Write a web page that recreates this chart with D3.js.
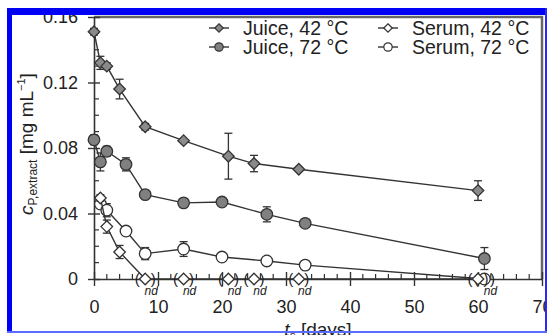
<!DOCTYPE html>
<html><head><meta charset="utf-8">
<script src="https://cdn.jsdelivr.net/npm/d3@7"></script>
<style>html,body{margin:0;padding:0;background:#fff;overflow:hidden}</style>
</head><body>
<svg id="c" width="547" height="335"></svg>
<script>
// ---- data ----
const days42 = [0, 1, 2, 4, 8, 14, 21, 25, 32, 60];
const days72 = [0, 1, 2, 5, 8, 14, 20, 27, 33, 61];
const juice42 = [0.151, 0.132, 0.130, 0.116, 0.093, 0.0845, 0.075, 0.0705, 0.067, 0.054];
const juice42Err = [0.002, 0.004, 0.002, 0.006, 0.002, 0.001, 0.014, 0.005, 0.001, 0.006];
const juice72 = [0.085, 0.0715, 0.078, 0.070, 0.0515, 0.0465, 0.047, 0.0395, 0.034, 0.0125];
const juice72Err = [0.003, 0.0055, 0.003, 0.004, 0.001, 0.001, 0.001, 0.0046, 0.001, 0.0067];
const serumDays42 = [1, 2, 4, 8, 14, 21, 25, 32, 60];
const serum42 = [0.0495, 0.032, 0.0165, 0, 0, 0, 0, 0, 0];
const serum42Err = [0.002, 0.004, 0.004, 0, 0, 0, 0, 0, 0];
const serum42Nd = [false, false, false, true, true, true, true, true, true];
const serum42NdLabel = [false, false, false, true, true, true, true, true, false];
const serumDays72 = [1, 2, 5, 8, 14, 20, 27, 33, 61];
const serum72 = [0.0458, 0.042, 0.0293, 0.0155, 0.0183, 0.0134, 0.011, 0.0085, 0];
const serum72Err = [0.002, 0.004, 0.001, 0.0037, 0.0045, 0.001, 0.001, 0.001, 0.002];
const serum72Nd = [false, false, false, false, false, false, false, false, true];
const serum72NdLabel = [false, false, false, false, false, false, false, false, true];
const xTicks = [0, 10, 20, 30, 40, 50, 60, 70];
const yTicks = [0, 0.04, 0.08, 0.12, 0.16];
const yTickLabels = ["0", "0.04", "0.08", "0.12", "0.16"];
const legendLabels = ["Juice, 42 °C", "Serum, 42 °C", "Juice, 72 °C", "Serum, 72 °C"];

// ---- layout ----
const FONT = "'Liberation Sans', Arial, Helvetica, sans-serif";
const svg = d3.select("#c");
const x = d3.scaleLinear().domain([0, 70]).range([94, 542]);
const y = d3.scaleLinear().domain([0, 0.16]).range([279, 17]);
const INK = "#333";

// frame (top, right)
svg.append("path").attr("d", `M${x(0)},${y(0.16)}H${x(70)}V${y(0)}`)
  .attr("fill", "none").attr("stroke", "#666").attr("stroke-width", 2.5);

// y axis
const yAx = svg.append("g").attr("transform", `translate(${x(0)},0)`)
  .call(d3.axisLeft(y).tickValues(yTicks).tickFormat((d, i) => yTickLabels[i]).tickSizeInner(6).tickSizeOuter(0).tickPadding(10));
yAx.select(".domain").attr("stroke", INK).attr("stroke-width", 1.6);
yAx.selectAll(".tick line").attr("stroke", INK).attr("stroke-width", 1.4).attr("x2", 6).attr("x1", -6);
yAx.selectAll("text").attr("font-family", FONT).attr("font-size", 18).attr("fill", "#222");
const yMinor = d3.range(0, 0.1601, 0.01).filter(v => yTicks.every(t => Math.abs(t - v) > 1e-6));
svg.append("g").selectAll("line").data(yMinor).join("line")
  .attr("x1", x(0)).attr("x2", x(0) + 5).attr("y1", d => y(d)).attr("y2", d => y(d))
  .attr("stroke", INK).attr("stroke-width", 1.2);

// x axis
const xAx = svg.append("g").attr("transform", `translate(0,${y(0)})`)
  .call(d3.axisBottom(x).tickValues(xTicks).tickFormat(d3.format("d")).tickSizeInner(7).tickSizeOuter(0).tickPadding(14));
xAx.select(".domain").attr("stroke", INK).attr("stroke-width", 1.6);
xAx.selectAll(".tick line").attr("stroke", INK).attr("stroke-width", 1.4).attr("y1", -7).attr("y2", 7);
xAx.selectAll("text").attr("font-family", FONT).attr("font-size", 18).attr("fill", "#222");
const xMinor = d3.range(0, 70.01, 2).filter(v => v % 10 !== 0);
svg.append("g").selectAll("line").data(xMinor).join("line")
  .attr("x1", d => x(d)).attr("x2", d => x(d)).attr("y1", y(0)).attr("y2", y(0) - 5)
  .attr("stroke", INK).attr("stroke-width", 1.2);

// series
const series = [
  {days: days42, vals: juice42, err: juice42Err, shape: "diamond", fill: "#8a8a8a"},
  {days: days72, vals: juice72, err: juice72Err, shape: "circle", fill: "#808080"},
  {days: serumDays72, vals: serum72, err: serum72Err, shape: "circle", fill: "#fff", nd: serum72Nd, ndl: serum72NdLabel},
  {days: serumDays42, vals: serum42, err: serum42Err, shape: "diamond", fill: "#fff", nd: serum42Nd, ndl: serum42NdLabel},
];
const line = d3.line().x(d => x(d[0])).y(d => y(d[1]));
const sym = {
  diamond: d3.symbol().type(d3.symbolDiamond2).size(85),
  circle: d3.symbol().type(d3.symbolCircle).size(105)
};
series.forEach(s => {
  const pts = s.days.map((d, i) => [d, s.vals[i], s.err[i], s.nd ? s.nd[i] : false, s.ndl ? s.ndl[i] : false]);
  svg.append("path").datum(pts).attr("d", line).attr("fill", "none").attr("stroke", INK).attr("stroke-width", 1.4);
  const eb = svg.append("g").attr("stroke", INK).attr("stroke-width", 1.3);
  pts.filter(p => p[2] > 0).forEach(p => {
    const cx = x(p[0]), y1 = y(p[1] - p[2]), y2 = y(p[1] + p[2]);
    eb.append("line").attr("x1", cx).attr("x2", cx).attr("y1", y1).attr("y2", y2);
    eb.append("line").attr("x1", cx - 4).attr("x2", cx + 4).attr("y1", y1).attr("y2", y1);
    eb.append("line").attr("x1", cx - 4).attr("x2", cx + 4).attr("y1", y2).attr("y2", y2);
  });
  svg.append("g").selectAll("path").data(pts).join("path")
    .attr("d", sym[s.shape]).attr("transform", p => `translate(${x(p[0])},${y(p[1])})`)
    .attr("fill", s.fill).attr("stroke", INK).attr("stroke-width", 1.3);
  pts.filter(p => p[3]).forEach(p => {
    const cx = x(p[0]);
    svg.append("text").attr("x", cx - 8).attr("y", y(0) + 5).attr("text-anchor", "middle")
      .attr("font-family", FONT).attr("font-size", 15).attr("fill", "#222").text("(");
    svg.append("text").attr("x", cx + 8).attr("y", y(0) + 5).attr("text-anchor", "middle")
      .attr("font-family", FONT).attr("font-size", 15).attr("fill", "#222").text(")");
  });
  pts.filter(p => p[4]).forEach(p => {
    svg.append("text").attr("x", x(p[0]) + 6).attr("y", y(0) + 16).attr("text-anchor", "middle")
      .attr("font-family", FONT).attr("font-size", 12).attr("font-style", "italic").attr("fill", "#222").text("nd");
  });
});

// legend
const legItems = [
  {shape: "diamond", fill: "#8a8a8a", lx: 209, ly: 28},
  {shape: "diamond", fill: "#fff", lx: 378, ly: 28},
  {shape: "circle", fill: "#808080", lx: 209, ly: 47},
  {shape: "circle", fill: "#fff", lx: 378, ly: 47},
];
legItems.forEach((it, i) => {
  const g = svg.append("g").attr("transform", `translate(${it.lx},${it.ly})`);
  g.append("line").attr("x1", 0).attr("x2", 20).attr("stroke", INK).attr("stroke-width", 1.4);
  g.append("path").attr("d", it.shape === "diamond" ? d3.symbol().type(d3.symbolDiamond2).size(45)() : d3.symbol().type(d3.symbolCircle).size(55)())
    .attr("transform", "translate(10,0)").attr("fill", it.fill).attr("stroke", INK).attr("stroke-width", 1.2);
  g.append("text").attr("x", 34).attr("y", 7).attr("font-family", FONT).attr("font-size", 19.5)
    .attr("fill", "#222").text(legendLabels[i]);
});

// axis titles
const yl = svg.append("text").attr("transform", "translate(33,144) rotate(-90)").attr("text-anchor", "middle")
  .attr("font-family", FONT).attr("font-size", 19).attr("fill", "#222");
yl.append("tspan").attr("font-style", "italic").text("c");
yl.append("tspan").attr("font-size", 12).attr("dy", 4).text("P,extract");
yl.append("tspan").attr("dy", -4).text(" [mg mL");
yl.append("tspan").attr("font-size", 11).attr("dy", -8).text("−1");
yl.append("tspan").attr("dy", 8).text("]");

const xl = svg.append("text").attr("x", 318).attr("y", 336).attr("text-anchor", "middle")
  .attr("font-family", FONT).attr("font-size", 19).attr("fill", "#222");
xl.append("tspan").attr("font-style", "italic").text("t");
xl.append("tspan").attr("font-size", 12).attr("dy", 4).text("s");
xl.append("tspan").attr("dy", -4).text(" [days]");

// blue border of the scan
svg.append("rect").attr("x", 7).attr("y", 8).attr("width", 540).attr("height", 7).attr("fill", "#0000f5");
svg.append("rect").attr("x", 7).attr("y", 8).attr("width", 5).attr("height", 324).attr("fill", "#0000f5");
svg.append("rect").attr("x", 545).attr("y", 8).attr("width", 2).attr("height", 324).attr("fill", "#2a2af8");
svg.append("rect").attr("x", 7).attr("y", 331).attr("width", 540).attr("height", 2).attr("fill", "#5a6cff");
</script>
</body></html>
